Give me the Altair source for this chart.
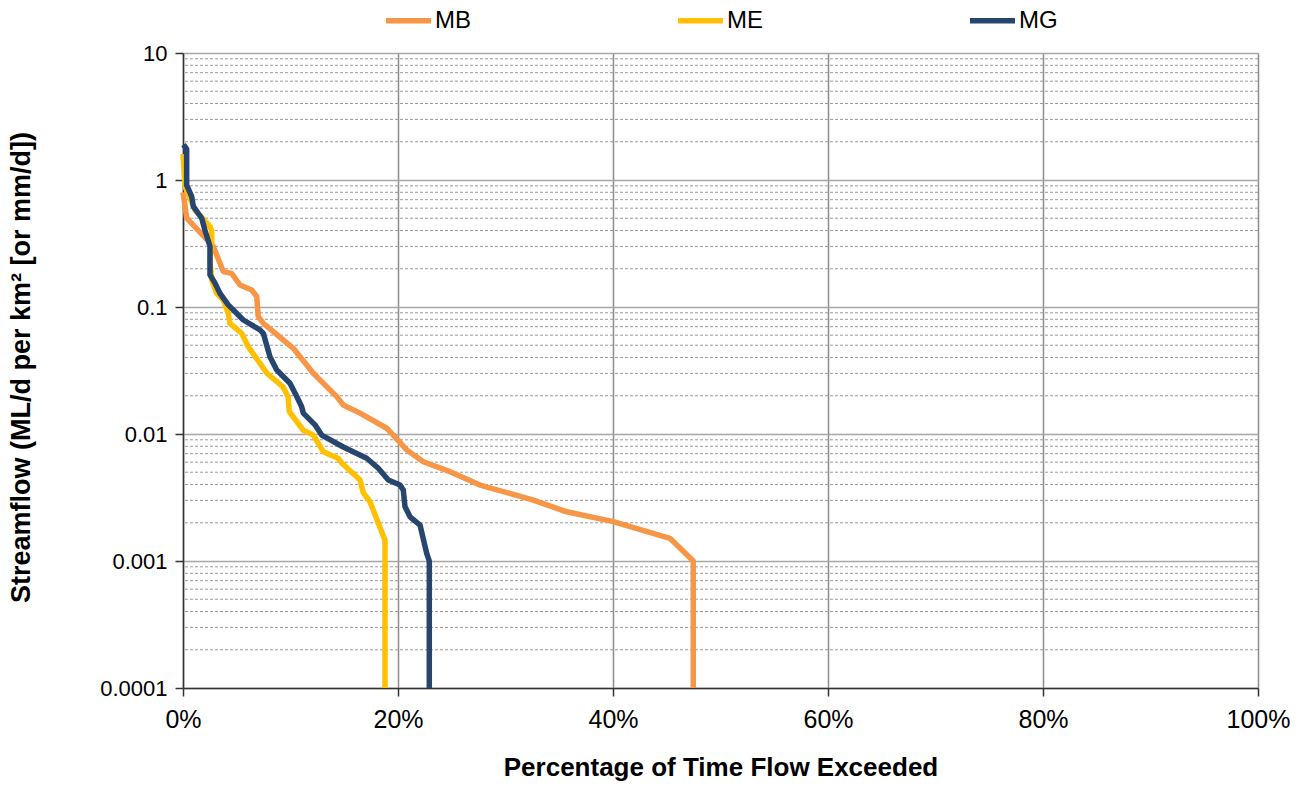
import altair as alt
import pandas as pd

# Flow duration curves: percentage of time exceeded (%) vs. specific streamflow
mb_pct = [0.0, 0.19, 0.34, 2.82, 3.75, 4.53, 5.30, 6.39, 6.86, 7.00, 7.47, 8.40,
          10.26, 12.12, 14.30, 14.91, 16.47, 18.95, 19.56, 20.81, 22.35, 24.84,
          27.63, 32.59, 35.69, 40.03, 45.30, 47.47, 47.47]
mb_flow = [0.8, 0.62, 0.50, 0.30, 0.19, 0.184, 0.149, 0.136, 0.121, 0.084, 0.0745, 0.064,
           0.0473, 0.0301, 0.0197, 0.0169, 0.0146, 0.0111, 0.0098, 0.0075, 0.00605, 0.00505,
           0.00396, 0.00302, 0.00244, 0.00204, 0.00151, 0.001, 0.0001]

me_pct = [0.0, 0.19, 1.12, 2.51, 2.67, 2.67, 2.51, 2.67, 3.13, 3.75, 4.21, 4.37, 5.46,
          6.07, 7.81, 9.30, 9.77, 9.89, 11.19, 12.12, 13.05, 14.42, 14.79, 16.47, 16.77,
          17.40, 18.60, 18.79, 18.79]
me_flow = [1.6, 0.885, 0.58, 0.43, 0.40, 0.32, 0.234, 0.163, 0.128, 0.1135, 0.089, 0.0744,
           0.062, 0.0487, 0.0301, 0.0235, 0.0197, 0.015, 0.0107, 0.0098, 0.00726, 0.00644,
           0.00588, 0.00434, 0.00345, 0.00292, 0.0016, 0.00146, 0.0001]

mg_pct = [0.05, 0.34, 0.34, 0.81, 0.96, 1.74, 2.05, 2.51, 2.51, 2.98, 3.44, 4.21, 5.61,
          7.16, 7.47, 8.09, 8.72, 9.95, 10.58, 11.04, 11.19, 12.28, 12.90, 14.91, 17.09,
          18.17, 19.10, 20.19, 20.49, 20.65, 21.12, 22.05, 22.67, 22.91, 22.91]
mg_flow = [1.9, 1.75, 0.91, 0.74, 0.62, 0.50, 0.40, 0.30, 0.179, 0.154, 0.128, 0.104, 0.079,
           0.066, 0.062, 0.0406, 0.0319, 0.0251, 0.0197, 0.0164, 0.0146, 0.0118, 0.0098,
           0.0079, 0.00644, 0.00537, 0.00434, 0.00397, 0.00362, 0.00268, 0.00223, 0.00192,
           0.00115, 0.001, 0.0001]

series_names = ["MB", "ME", "MG"]
series_colors = ["#F79646", "#FFC000", "#27466F"]

rows = []
for name, pcts, flows in zip(series_names, [mb_pct, me_pct, mg_pct], [mb_flow, me_flow, mg_flow]):
    for i, (p, f) in enumerate(zip(pcts, flows)):
        rows.append({"site": name, "pct": p, "flow": f, "i": i})
df = pd.DataFrame(rows)

major_ticks = [0.0001, 0.001, 0.01, 0.1, 1, 10]
minor_ticks = [m * 10.0 ** e for e in range(-4, 1) for m in range(2, 10)]
x_ticks = [0, 20, 40, 60, 80, 100]

FONT = "Liberation Sans"

y_scale = alt.Scale(type="log", domain=[0.0001, 10], nice=False)
x_scale = alt.Scale(domain=[0, 100], nice=False)

y_axis = alt.Axis(
    title="Streamflow (ML/d per km² [or mm/d])",
    values=major_ticks,
    format="~g",
    grid=True,
    gridColor="#a6a6a6",
    gridWidth=1.5,
    domainColor="#333333",
    domainWidth=1.5,
    tickColor="#333333",
    tickSize=8,
    tickWidth=1.5,
    labelPadding=8,
    labelFontSize=22,
    labelColor="#000000",
    labelFont=FONT,
    titleFont=FONT,
    titleFontSize=27,
    titleFontWeight="bold",
    titleColor="#000000",
    titleX=-148,
    titleY=314,
    titleBaseline="bottom",
)

x_axis = alt.Axis(
    title="Percentage of Time Flow Exceeded",
    values=x_ticks,
    labelExpr="datum.value + '%'",
    labelFlush=False,
    grid=True,
    gridColor="#8c8c8c",
    gridWidth=1.5,
    domainColor="#333333",
    domainWidth=1.5,
    tickColor="#333333",
    tickSize=8,
    tickWidth=1.5,
    labelPadding=11,
    labelFontSize=25,
    labelColor="#000000",
    labelFont=FONT,
    titleFont=FONT,
    titleFontSize=26,
    titleFontWeight="bold",
    titleColor="#000000",
    titlePadding=22,
)

# dashed minor gridlines at 2..9 within each decade
minor = alt.Chart(pd.DataFrame({"v": minor_ticks})).mark_rule(
    color="#9a9a9a", strokeWidth=1, strokeDash=[3, 2]
).encode(y=alt.Y("v:Q", scale=y_scale, axis=y_axis))

lines = alt.Chart(df).mark_line(strokeWidth=5.5, strokeJoin="round").encode(
    x=alt.X("pct:Q", scale=x_scale, axis=x_axis),
    y=alt.Y("flow:Q", scale=y_scale, axis=y_axis),
    color=alt.Color(
        "site:N",
        scale=alt.Scale(domain=series_names, range=series_colors),
        legend=alt.Legend(
            title=None,
            orient="none",
            direction="horizontal",
            legendX=200,
            legendY=-58,
            symbolType="stroke",
            symbolSize=2025,
            symbolStrokeWidth=5.5,
            labelFont=FONT,
            labelFontSize=24,
            labelColor="#000000",
            labelOffset=1,
            columnPadding=196,
        ),
    ),
    order=alt.Order("i:Q"),
)

chart = (
    alt.layer(minor, lines)
    .properties(
        width=1075,
        height=635,
        autosize=alt.AutoSizeParams(type="none"),
        padding={"left": 183, "top": 53, "right": 48, "bottom": 103},
    )
    .configure_view(stroke="#8c8c8c", strokeWidth=1.5)
    .configure(background="white")
)

chart.save("out.html", embed_options={"renderer": "svg", "actions": False})
